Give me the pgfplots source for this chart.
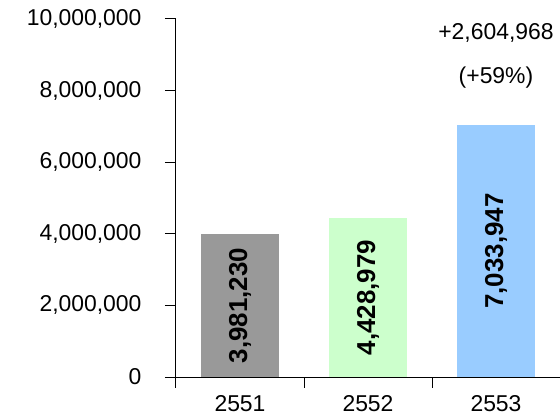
\documentclass[border=0pt]{standalone}
\usepackage{pgfplots}
\pgfplotsset{compat=1.18}
\usepackage{fontspec}
\setmainfont{Liberation Sans}
\definecolor{barGray}{HTML}{999999}
\definecolor{barGreen}{HTML}{CCFFCC}
\definecolor{barBlue}{HTML}{99CCFF}

\begin{document}
\begin{tikzpicture}
\begin{axis}[
    scale only axis,
    width=384bp, height=358bp,
    xmin=-0.5, xmax=2.5,
    ymin=0, ymax=10000000,
    axis x line*=bottom, axis y line*=left,
    axis line style={line width=1pt},
    xtick={0,1,2},
    xticklabels={2551,2552,2553},
    major x tick style={draw=none},
    minor xtick={-0.5,0.5,1.5,2.5},
    ytick={0,2000000,4000000,6000000,8000000,10000000},
    tick align=outside,
    major tick length=11bp, minor tick length=11bp,
    tick style={black, line width=1pt},
    scaled y ticks=false,
    /pgf/number format/fixed,
    /pgf/number format/1000 sep={,},
    /pgf/number format/assume math mode=true,
    yticklabel style={xshift=-20bp},
    xticklabel style={yshift=-4bp},
    tick label style={font=\fontsize{23}{26}\selectfont},
    ybar, bar width=0.61, bar shift=0pt,
    clip=false,
]
\addplot[draw=none, fill=barGray] coordinates {(0,3981230)};
\addplot[draw=none, fill=barGreen] coordinates {(1,4428979)};
\addplot[draw=none, fill=barBlue] coordinates {(2,7033947)};

\node[rotate=90, font=\fontsize{26}{29}\selectfont\bfseries] at (axis cs:0,1990615) {3,981,230};
\node[rotate=90, font=\fontsize{26}{29}\selectfont\bfseries] at (axis cs:1,2214490) {4,428,979};
\node[rotate=90, font=\fontsize{26}{29}\selectfont\bfseries] at (axis cs:2,3516974) {7,033,947};
\node[font=\fontsize{23}{26}\selectfont] at (axis cs:2,9610000) {+2,604,968};
\node[font=\fontsize{23}{26}\selectfont] at (axis cs:2,8350000) {(+59\%)};
\end{axis}
\pgfresetboundingbox
\path[use as bounding box] ([shift={(-176bp,-40bp)}]current axis.south west) rectangle ([shift={(0bp,19bp)}]current axis.north east);
\end{tikzpicture}
\end{document}
